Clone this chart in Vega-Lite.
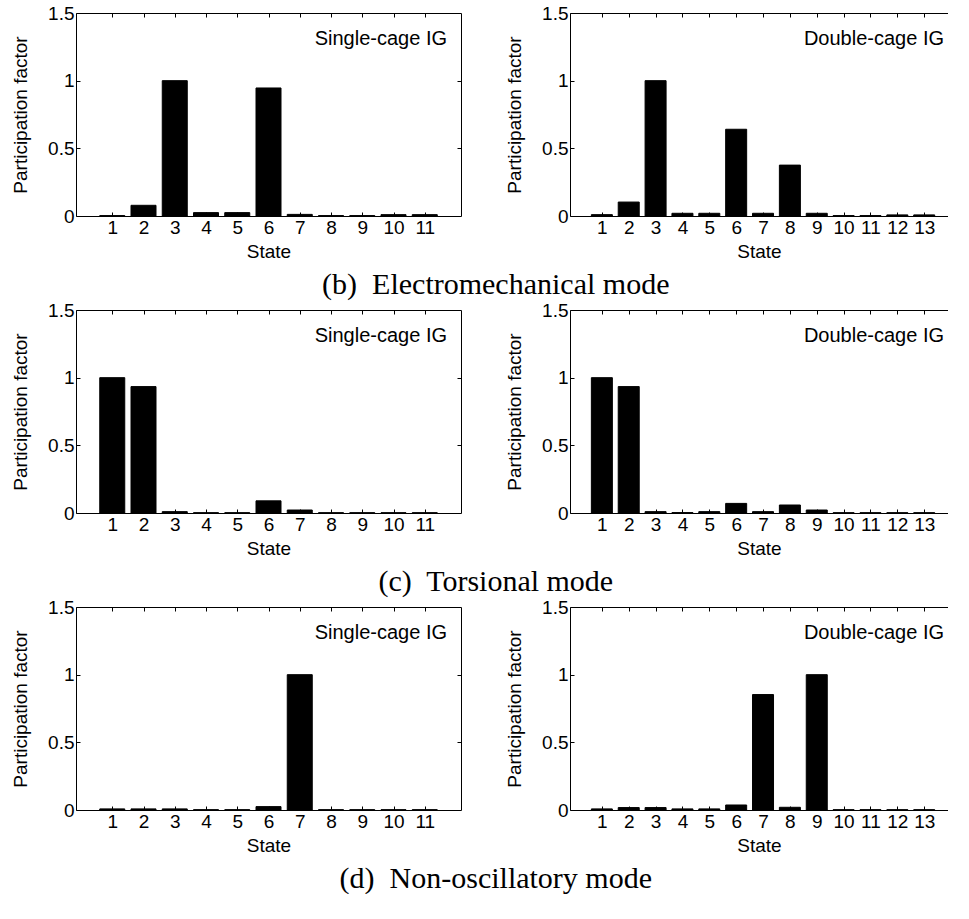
{
  "$schema": "https://vega.github.io/schema/vega-lite/v6.json",
  "background": "white",
  "padding": {"top": 4, "left": 11, "right": 0, "bottom": 0},
  "config": {
    "view": {"stroke": null},
    "axis": {"grid": false, "domainColor": "black", "tickColor": "black", "labelColor": "black", "titleColor": "black",
      "labelFont": "Liberation Sans", "titleFont": "Liberation Sans", "labelFontSize": 19, "titleFontSize": 19,
      "titleFontWeight": "normal", "tickSize": -4, "domainWidth": 1, "tickWidth": 1},
    "axisX": {"labelPadding": 6, "titlePadding": 5, "labelAngle": 0},
    "axisY": {"labelPadding": 6, "titlePadding": 17, "format": ".1~f"},
    "title": {"color": "black"}
  },
  "datasets": {
    "b_single": [
      {"state": 1, "pf": 0.003}, {"state": 2, "pf": 0.079}, {"state": 3, "pf": 1.0}, {"state": 4, "pf": 0.025},
      {"state": 5, "pf": 0.025}, {"state": 6, "pf": 0.946}, {"state": 7, "pf": 0.012}, {"state": 8, "pf": 0.003},
      {"state": 9, "pf": 0.003}, {"state": 10, "pf": 0.01}, {"state": 11, "pf": 0.01}],
    "b_double": [
      {"state": 1, "pf": 0.01}, {"state": 2, "pf": 0.103}, {"state": 3, "pf": 1.0}, {"state": 4, "pf": 0.02},
      {"state": 5, "pf": 0.02}, {"state": 6, "pf": 0.641}, {"state": 7, "pf": 0.02}, {"state": 8, "pf": 0.376},
      {"state": 9, "pf": 0.02}, {"state": 10, "pf": 0.003}, {"state": 11, "pf": 0.003}, {"state": 12, "pf": 0.008},
      {"state": 13, "pf": 0.008}],
    "c_single": [
      {"state": 1, "pf": 1.0}, {"state": 2, "pf": 0.934}, {"state": 3, "pf": 0.01}, {"state": 4, "pf": 0.002},
      {"state": 5, "pf": 0.002}, {"state": 6, "pf": 0.09}, {"state": 7, "pf": 0.022}, {"state": 8, "pf": 0.002},
      {"state": 9, "pf": 0.002}, {"state": 10, "pf": 0.002}, {"state": 11, "pf": 0.002}],
    "c_double": [
      {"state": 1, "pf": 1.0}, {"state": 2, "pf": 0.934}, {"state": 3, "pf": 0.01}, {"state": 4, "pf": 0.003},
      {"state": 5, "pf": 0.01}, {"state": 6, "pf": 0.071}, {"state": 7, "pf": 0.01}, {"state": 8, "pf": 0.059},
      {"state": 9, "pf": 0.022}, {"state": 10, "pf": 0.002}, {"state": 11, "pf": 0.002}, {"state": 12, "pf": 0.002},
      {"state": 13, "pf": 0.002}],
    "d_single": [
      {"state": 1, "pf": 0.008}, {"state": 2, "pf": 0.008}, {"state": 3, "pf": 0.008}, {"state": 4, "pf": 0.002},
      {"state": 5, "pf": 0.002}, {"state": 6, "pf": 0.025}, {"state": 7, "pf": 1.0}, {"state": 8, "pf": 0.002},
      {"state": 9, "pf": 0.002}, {"state": 10, "pf": 0.002}, {"state": 11, "pf": 0.002}],
    "d_double": [
      {"state": 1, "pf": 0.008}, {"state": 2, "pf": 0.018}, {"state": 3, "pf": 0.018}, {"state": 4, "pf": 0.008},
      {"state": 5, "pf": 0.008}, {"state": 6, "pf": 0.037}, {"state": 7, "pf": 0.853}, {"state": 8, "pf": 0.02},
      {"state": 9, "pf": 1.0}, {"state": 10, "pf": 0.002}, {"state": 11, "pf": 0.002}, {"state": 12, "pf": 0.002},
      {"state": 13, "pf": 0.002}]
  },
  "spacing": 1,
  "vconcat": [
    {
      "title": {"text": "(b)\u00a0 Electromechanical mode", "orient": "bottom", "anchor": "middle", "font": "Liberation Serif", "fontSize": 30, "fontWeight": "normal", "offset": 9, "dx": 16},
      "spacing": 43,
      "hconcat": [
        {
          "width": 385, "height": 203,
          "title": {"text": "Single-cage IG", "orient": "top", "anchor": "end", "frame": "group", "offset": -45, "dx": -14, "font": "Liberation Sans", "fontSize": 20, "fontWeight": "normal"},
          "data": {"name": "b_single"},
          "layer": [
            {"mark": {"type": "bar", "size": 25, "color": "black", "stroke": "black", "strokeWidth": 1},
             "encoding": {
               "x": {"field": "state", "type": "quantitative", "scale": {"domain": [0, 12], "nice": false}, "axis": {"orient": "bottom", "values": [1,2,3,4,5,6,7,8,9,10,11], "title": "State"}},
               "y": {"field": "pf", "type": "quantitative", "scale": {"domain": [0, 1.5], "nice": false}, "axis": {"orient": "left", "values": [0, 0.5, 1, 1.5], "title": "Participation factor"}}}},
            {"mark": {"type": "bar", "size": 25, "opacity": 0},
             "encoding": {
               "x": {"field": "state", "type": "quantitative", "axis": {"orient": "top", "values": [1,2,3,4,5,6,7,8,9,10,11], "labels": false, "title": null}},
               "y": {"field": "pf", "type": "quantitative", "axis": {"orient": "right", "values": [0.5, 1], "labels": false, "title": null, "minExtent": 0}}}}
          ],
          "resolve": {"axis": {"x": "independent", "y": "independent"}}
        },
        {
          "width": 378, "height": 203,
          "title": {"text": "Double-cage IG", "orient": "top", "anchor": "end", "frame": "group", "offset": -45, "dx": -4, "font": "Liberation Sans", "fontSize": 20, "fontWeight": "normal"},
          "data": {"name": "b_double"},
          "layer": [
            {"mark": {"type": "bar", "size": 21, "color": "black", "stroke": "black", "strokeWidth": 1},
             "encoding": {
               "x": {"field": "state", "type": "quantitative", "scale": {"domain": [0, 13.7], "nice": false}, "axis": {"orient": "bottom", "values": [1,2,3,4,5,6,7,8,9,10,11,12,13], "title": "State"}},
               "y": {"field": "pf", "type": "quantitative", "scale": {"domain": [0, 1.5], "nice": false}, "axis": {"orient": "left", "values": [0, 0.5, 1, 1.5], "title": "Participation factor"}}}},
            {"mark": {"type": "bar", "size": 21, "opacity": 0},
             "encoding": {
               "x": {"field": "state", "type": "quantitative", "axis": {"orient": "top", "values": [1,2,3,4,5,6,7,8,9,10,11,12,13], "labels": false, "title": null}},
               "y": {"field": "pf", "type": "quantitative"}}}
          ],
          "resolve": {"axis": {"x": "independent"}}
        }
      ]
    },
    {
      "title": {"text": "(c)\u00a0 Torsional mode", "orient": "bottom", "anchor": "middle", "font": "Liberation Serif", "fontSize": 30, "fontWeight": "normal", "offset": 9, "dx": 16},
      "spacing": 43,
      "hconcat": [
        {
          "width": 385, "height": 203,
          "title": {"text": "Single-cage IG", "orient": "top", "anchor": "end", "frame": "group", "offset": -45, "dx": -14, "font": "Liberation Sans", "fontSize": 20, "fontWeight": "normal"},
          "data": {"name": "c_single"},
          "layer": [
            {"mark": {"type": "bar", "size": 25, "color": "black", "stroke": "black", "strokeWidth": 1},
             "encoding": {
               "x": {"field": "state", "type": "quantitative", "scale": {"domain": [0, 12], "nice": false}, "axis": {"orient": "bottom", "values": [1,2,3,4,5,6,7,8,9,10,11], "title": "State"}},
               "y": {"field": "pf", "type": "quantitative", "scale": {"domain": [0, 1.5], "nice": false}, "axis": {"orient": "left", "values": [0, 0.5, 1, 1.5], "title": "Participation factor"}}}},
            {"mark": {"type": "bar", "size": 25, "opacity": 0},
             "encoding": {
               "x": {"field": "state", "type": "quantitative", "axis": {"orient": "top", "values": [1,2,3,4,5,6,7,8,9,10,11], "labels": false, "title": null}},
               "y": {"field": "pf", "type": "quantitative", "axis": {"orient": "right", "values": [0.5, 1], "labels": false, "title": null, "minExtent": 0}}}}
          ],
          "resolve": {"axis": {"x": "independent", "y": "independent"}}
        },
        {
          "width": 378, "height": 203,
          "title": {"text": "Double-cage IG", "orient": "top", "anchor": "end", "frame": "group", "offset": -45, "dx": -4, "font": "Liberation Sans", "fontSize": 20, "fontWeight": "normal"},
          "data": {"name": "c_double"},
          "layer": [
            {"mark": {"type": "bar", "size": 21, "color": "black", "stroke": "black", "strokeWidth": 1},
             "encoding": {
               "x": {"field": "state", "type": "quantitative", "scale": {"domain": [0, 13.7], "nice": false}, "axis": {"orient": "bottom", "values": [1,2,3,4,5,6,7,8,9,10,11,12,13], "title": "State"}},
               "y": {"field": "pf", "type": "quantitative", "scale": {"domain": [0, 1.5], "nice": false}, "axis": {"orient": "left", "values": [0, 0.5, 1, 1.5], "title": "Participation factor"}}}},
            {"mark": {"type": "bar", "size": 21, "opacity": 0},
             "encoding": {
               "x": {"field": "state", "type": "quantitative", "axis": {"orient": "top", "values": [1,2,3,4,5,6,7,8,9,10,11,12,13], "labels": false, "title": null}},
               "y": {"field": "pf", "type": "quantitative"}}}
          ],
          "resolve": {"axis": {"x": "independent"}}
        }
      ]
    },
    {
      "title": {"text": "(d)\u00a0 Non-oscillatory mode", "orient": "bottom", "anchor": "middle", "font": "Liberation Serif", "fontSize": 30, "fontWeight": "normal", "offset": 9, "dx": 16},
      "spacing": 43,
      "hconcat": [
        {
          "width": 385, "height": 203,
          "title": {"text": "Single-cage IG", "orient": "top", "anchor": "end", "frame": "group", "offset": -45, "dx": -14, "font": "Liberation Sans", "fontSize": 20, "fontWeight": "normal"},
          "data": {"name": "d_single"},
          "layer": [
            {"mark": {"type": "bar", "size": 25, "color": "black", "stroke": "black", "strokeWidth": 1},
             "encoding": {
               "x": {"field": "state", "type": "quantitative", "scale": {"domain": [0, 12], "nice": false}, "axis": {"orient": "bottom", "values": [1,2,3,4,5,6,7,8,9,10,11], "title": "State"}},
               "y": {"field": "pf", "type": "quantitative", "scale": {"domain": [0, 1.5], "nice": false}, "axis": {"orient": "left", "values": [0, 0.5, 1, 1.5], "title": "Participation factor"}}}},
            {"mark": {"type": "bar", "size": 25, "opacity": 0},
             "encoding": {
               "x": {"field": "state", "type": "quantitative", "axis": {"orient": "top", "values": [1,2,3,4,5,6,7,8,9,10,11], "labels": false, "title": null}},
               "y": {"field": "pf", "type": "quantitative", "axis": {"orient": "right", "values": [0.5, 1], "labels": false, "title": null, "minExtent": 0}}}}
          ],
          "resolve": {"axis": {"x": "independent", "y": "independent"}}
        },
        {
          "width": 378, "height": 203,
          "title": {"text": "Double-cage IG", "orient": "top", "anchor": "end", "frame": "group", "offset": -45, "dx": -4, "font": "Liberation Sans", "fontSize": 20, "fontWeight": "normal"},
          "data": {"name": "d_double"},
          "layer": [
            {"mark": {"type": "bar", "size": 21, "color": "black", "stroke": "black", "strokeWidth": 1},
             "encoding": {
               "x": {"field": "state", "type": "quantitative", "scale": {"domain": [0, 13.7], "nice": false}, "axis": {"orient": "bottom", "values": [1,2,3,4,5,6,7,8,9,10,11,12,13], "title": "State"}},
               "y": {"field": "pf", "type": "quantitative", "scale": {"domain": [0, 1.5], "nice": false}, "axis": {"orient": "left", "values": [0, 0.5, 1, 1.5], "title": "Participation factor"}}}},
            {"mark": {"type": "bar", "size": 21, "opacity": 0},
             "encoding": {
               "x": {"field": "state", "type": "quantitative", "axis": {"orient": "top", "values": [1,2,3,4,5,6,7,8,9,10,11,12,13], "labels": false, "title": null}},
               "y": {"field": "pf", "type": "quantitative"}}}
          ],
          "resolve": {"axis": {"x": "independent"}}
        }
      ]
    }
  ]
}
